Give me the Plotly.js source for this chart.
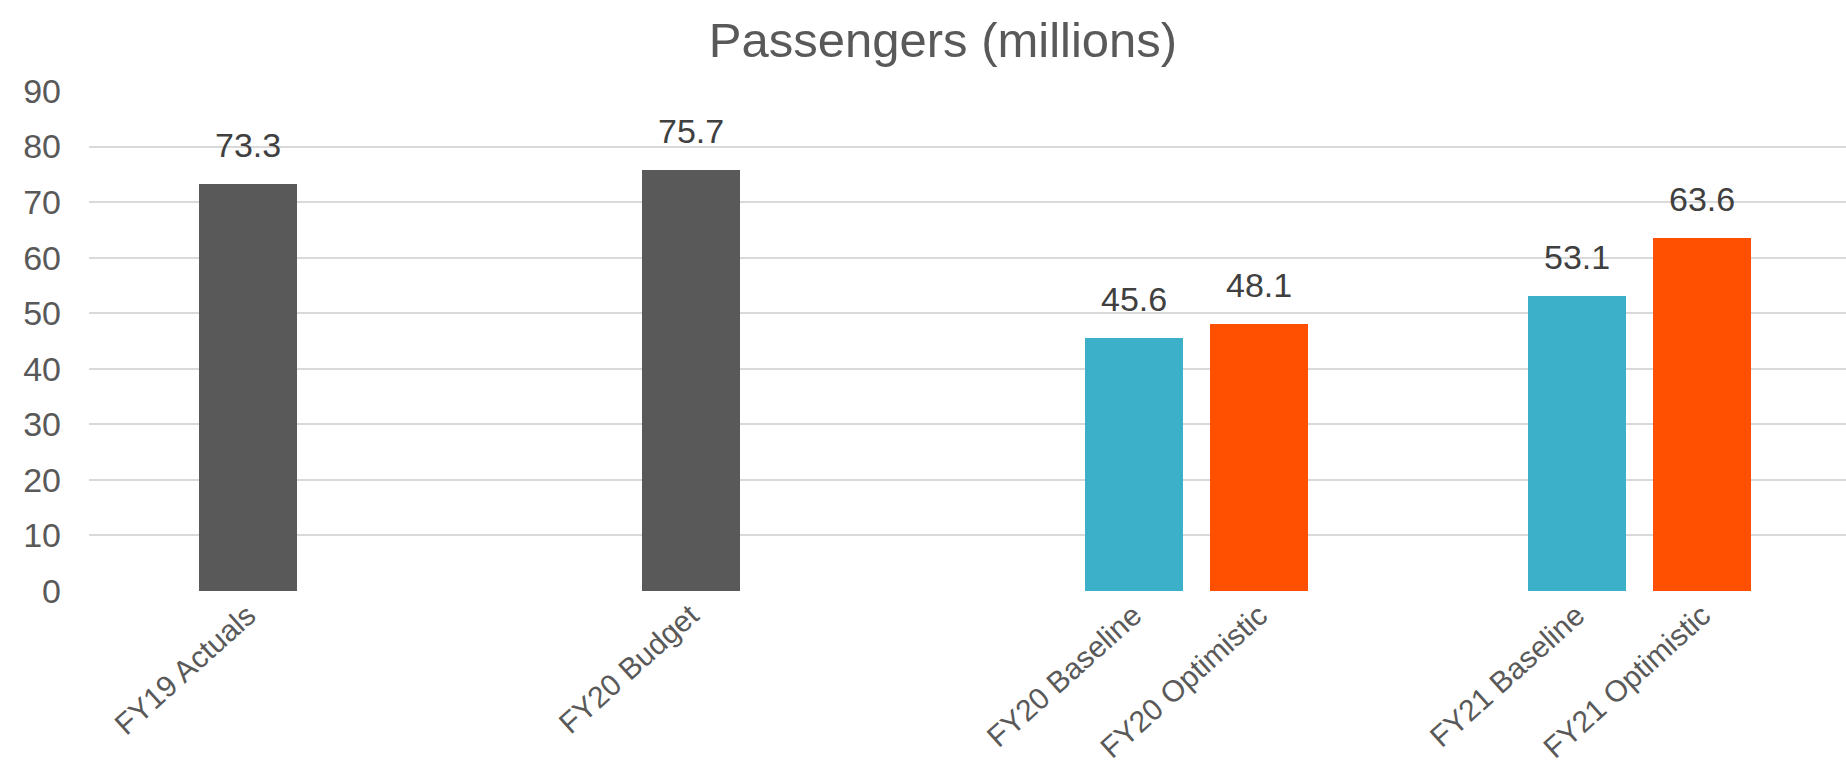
<!DOCTYPE html>
<html>
<head>
<meta charset="utf-8">
<script src="https://cdn.plot.ly/plotly-3.0.1.min.js"></script>
<style>html,body{margin:0;padding:0;background:#fff;}#chart{width:1846px;height:765px;}</style>
</head>
<body>
<div id="chart"></div>
<script>
// Data
const barLabels = ['FY19 Actuals', 'FY20 Budget', 'FY20 Baseline', 'FY20 Optimistic', 'FY21 Baseline', 'FY21 Optimistic'];
const barValues = [73.3, 75.7, 45.6, 48.1, 53.1, 63.6];
const groupIndex = [0, 1, 2, 2, 3, 3];
const seriesSlot = [-1, -1, -1, 1, -1, 1];
const barColors = ['#595959', '#595959', '#3CB0C8', '#FE5000', '#3CB0C8', '#FE5000'];
const yTicks = [0, 10, 20, 30, 40, 50, 60, 70, 80, 90];

// Layout helpers (style)
const slotOffset = 0.142;
const barWidth = 0.221;
const xPos = groupIndex.map((g, i) => g + seriesSlot[i] * slotOffset);
const font = 'Liberation Sans, Arial, sans-serif';

const trace = {
  type: 'bar',
  x: xPos,
  y: barValues,
  width: barWidth,
  marker: { color: barColors, line: { width: 0 } },
  hoverinfo: 'skip'
};

const annotations = xPos.map((x, i) => ({
  x: x, y: barValues[i], xref: 'x', yref: 'y',
  text: barValues[i].toFixed(1),
  showarrow: false, yanchor: 'bottom', yshift: 18,
  font: { family: font, size: 34, color: '#404040' }
}));

const layout = {
  width: 1846, height: 765,
  paper_bgcolor: '#ffffff', plot_bgcolor: '#ffffff',
  margin: { l: 89, r: 0, t: 91, b: 174 },
  title: {
    text: 'Passengers (millions)',
    font: { family: font, size: 49, color: '#595959' },
    x: 943 / 1846, xref: 'container', xanchor: 'center',
    y: 1 - 40 / 765, yref: 'container', yanchor: 'middle'
  },
  showlegend: false,
  bargap: 0,
  xaxis: {
    range: [-0.5, -0.5 + 1757 / 443],
    tickmode: 'array', tickvals: xPos, ticktext: barLabels,
    tickangle: -42,
    tickfont: { family: font, size: 30, color: '#595959' },
    showgrid: false, zeroline: false, showline: false, ticks: ''
  },
  yaxis: {
    range: [0, 90],
    tickmode: 'array', tickvals: yTicks,
    tickfont: { family: font, size: 34, color: '#595959' },
    showgrid: true, gridcolor: '#D9D9D9', gridwidth: 2,
    zeroline: false, showline: false, ticks: '',
    ticklabelstandoff: 27
  },
  annotations: annotations
};

Plotly.newPlot('chart', [trace], layout, { displayModeBar: false, staticPlot: true });
</script>
</body>
</html>
